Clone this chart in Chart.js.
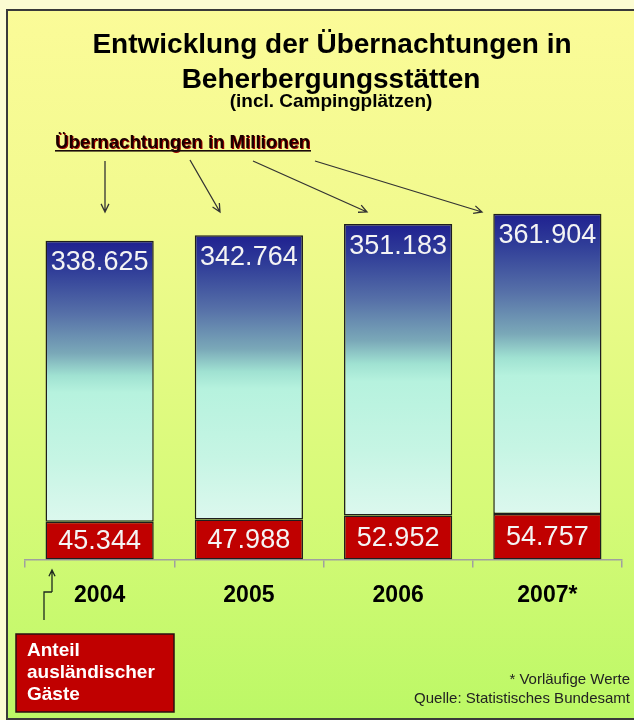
<!DOCTYPE html>
<html>
<head>
<meta charset="utf-8">
<script src="https://cdn.jsdelivr.net/npm/chart.js@4/dist/chart.umd.min.js"></script>
<style>
  html, body { margin: 0; overflow: hidden; }
  body { width: 634px; height: 720px; background: #fcfcd2; position: relative; }
  #frame {
    position: absolute; left: 6px; top: 9px; width: 640px; height: 707px;
    border: 2px solid #3a3a3a; border-right: none;
    background: linear-gradient(to bottom, #fbfb98 0%, #f1fa8e 30%, #d6fa78 70%, #bcf866 100%);
  }
  #chart { position: absolute; left: 0; top: 0; }
</style>
</head>
<body>
<div id="frame"></div>
<canvas id="chart" width="634" height="720"></canvas>
<script>
// Übernachtungen in Millionen
const years = ['2004', '2005', '2006', '2007*'];
const totalStays = [338.625, 342.764, 351.183, 361.904];
const foreignStays = [45.344, 47.988, 52.952, 54.757];

const titleLines = ['Entwicklung der Übernachtungen in', 'Beherbergungsstätten'];
const subTitle = '(incl. Campingplätzen)';

const FONT = "'Liberation Sans', Arial, sans-serif";
Chart.defaults.font.family = FONT;

// blue bar fades from navy at the top to pale aqua at the bottom
function blueFill(ctx) {
  const chart = ctx.chart;
  const y = chart.scales.y;
  if (!chart.chartArea || !y || ctx.dataIndex === undefined) return '#3848a0';
  const i = ctx.dataIndex;
  const top = y.getPixelForValue(foreignStays[i] + totalStays[i]);
  const bottom = y.getPixelForValue(foreignStays[i]);
  const g = chart.ctx.createLinearGradient(0, top, 0, bottom);
  g.addColorStop(0, '#1f2090');
  g.addColorStop(0.1, '#2f3c98');
  g.addColorStop(0.26, '#5670a8');
  g.addColorStop(0.4, '#7aa8b8');
  g.addColorStop(0.48, '#a0e2d2');
  g.addColorStop(0.54, '#b6f2de');
  g.addColorStop(0.78, '#c6f5e4');
  g.addColorStop(1, '#dcf8ee');
  return g;
}

function arrow(c, x1, y1, x2, y2, head) {
  c.beginPath();
  c.moveTo(x1, y1);
  c.lineTo(x2, y2);
  const a = Math.atan2(y2 - y1, x2 - x1);
  c.moveTo(x2 - head * Math.cos(a - 0.45), y2 - head * Math.sin(a - 0.45));
  c.lineTo(x2, y2);
  c.lineTo(x2 - head * Math.cos(a + 0.45), y2 - head * Math.sin(a + 0.45));
  c.stroke();
}

const extras = {
  id: 'extras',
  afterDatasetsDraw(chart) {
    const c = chart.ctx;
    c.save();
    c.textAlign = 'center';
    c.textBaseline = 'middle';
    c.fillStyle = '#f4f4f4';
    c.font = '27px ' + FONT;
    chart.getDatasetMeta(0).data.forEach((bar, i) => {
      c.fillText(foreignStays[i].toFixed(3), bar.x, (bar.y + bar.base) / 2 + 1);
    });
    chart.getDatasetMeta(1).data.forEach((bar, i) => {
      c.fillText(totalStays[i].toFixed(3), bar.x, bar.y + 22);
    });
    c.restore();
  },
  afterDraw(chart) {
    const c = chart.ctx;
    c.save();

    // heading
    c.fillStyle = '#000';
    c.textAlign = 'center';
    c.textBaseline = 'middle';
    c.font = 'bold 28px ' + FONT;
    c.fillText(titleLines[0], 332, 45);
    c.fillText(titleLines[1], 331, 80);
    c.font = 'bold 19px ' + FONT;
    c.fillText(subTitle, 331, 102);

    // label with arrows pointing at the bars
    c.font = 'bold 18.6px ' + FONT;
    c.textAlign = 'left';
    c.textBaseline = 'alphabetic';
    c.shadowColor = '#a00000';
    c.shadowOffsetX = 1;
    c.shadowOffsetY = 0.5;
    c.fillStyle = '#1a0000';
    c.fillText('Übernachtungen in Millionen', 55, 148);
    c.shadowColor = 'transparent';
    c.fillStyle = '#1a0a0a';
    c.fillRect(55, 150, 256, 1.6);

    c.strokeStyle = '#333333';
    c.lineWidth = 1.3;
    arrow(c, 105, 161, 105, 212, 9);
    arrow(c, 190, 160, 220, 212, 9);
    arrow(c, 253, 161, 367, 212, 9);
    arrow(c, 315, 161, 482, 212, 9);

    // foreign guests box
    c.fillStyle = '#c00000';
    c.fillRect(16, 634, 158, 78);
    c.strokeStyle = '#2a1010';
    c.lineWidth = 1.5;
    c.strokeRect(16, 634, 158, 78);
    c.fillStyle = '#ffffff';
    c.font = 'bold 19px ' + FONT;
    c.textBaseline = 'middle';
    c.fillText('Anteil', 27, 651);
    c.fillText('ausländischer', 27, 673);
    c.fillText('Gäste', 27, 695);

    c.strokeStyle = '#1e2a1e';
    c.lineWidth = 1.3;
    c.beginPath();
    c.moveTo(44, 620);
    c.lineTo(44, 592);
    c.lineTo(52, 592);
    c.stroke();
    arrow(c, 52, 592, 52, 570, 7);

    // footnotes
    c.fillStyle = '#222222';
    c.font = '15px ' + FONT;
    c.textAlign = 'right';
    c.fillText('* Vorläufige Werte', 630, 680);
    c.fillText('Quelle: Statistisches Bundesamt', 630, 699);
    c.restore();
  }
};

new Chart(document.getElementById('chart'), {
  type: 'bar',
  data: {
    labels: years,
    datasets: [
      {
        label: 'Anteil ausländischer Gäste',
        data: foreignStays,
        backgroundColor: '#c00000',
        borderColor: '#1e1e1e',
        borderWidth: 1.5,
        borderSkipped: false
      },
      {
        label: 'Übernachtungen',
        data: totalStays,
        backgroundColor: blueFill,
        borderColor: '#1e1e1e',
        borderWidth: 1.5,
        borderSkipped: false
      }
    ]
  },
  options: {
    responsive: false,
    animation: false,
    devicePixelRatio: 1,
    layout: { padding: { top: 186, left: 25, right: 12, bottom: 97 } },
    datasets: { bar: { barPercentage: 0.725, categoryPercentage: 1 } },
    scales: {
      x: {
        stacked: true,
        grid: { offset: true, drawOnChartArea: false, color: '#a0a0a0', tickLength: 8, lineWidth: 1.5 },
        border: { color: '#a0a0a0', width: 1.5 },
        ticks: { color: '#000', padding: 14, font: { size: 23, weight: 'bold' } }
      },
      y: { stacked: true, display: false, min: 0, max: 450 }
    },
    plugins: {
      legend: { display: false },
      tooltip: { enabled: false },
      title: { display: false }
    }
  },
  plugins: [extras]
});
</script>
</body>
</html>
